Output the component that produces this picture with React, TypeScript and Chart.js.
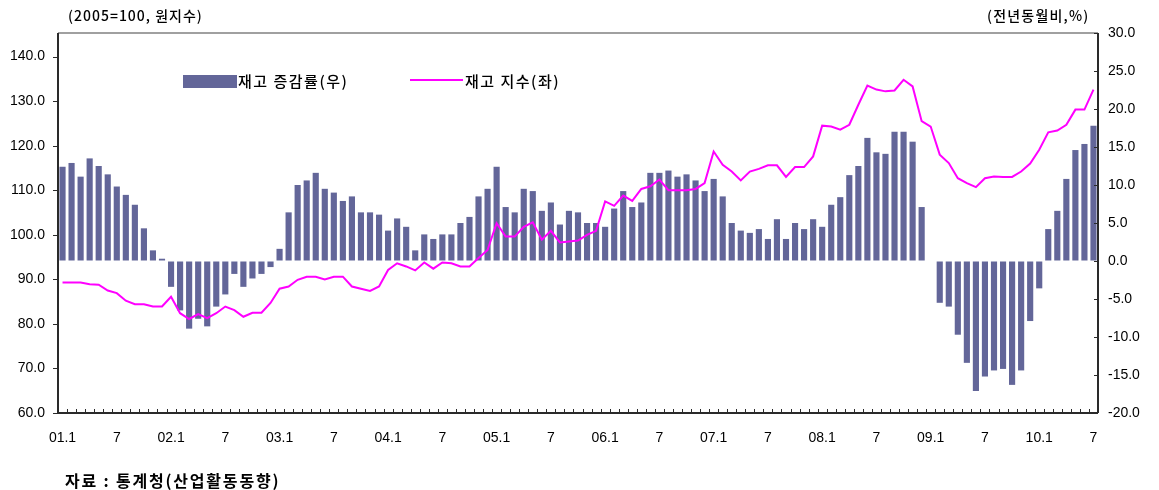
import React, { useEffect, useRef } from "react";
import { Chart, registerables } from "chart.js";

Chart.register(...registerables);

// 2001.1 ~ 2010.7 monthly categories
const years: string[] = ["01", "02", "03", "04", "05", "06", "07", "08", "09", "10"];
const categories: string[] = [];
years.forEach((y) => {
  for (let m = 1; m <= 12; m++) {
    if (y === "10" && m > 7) break;
    categories.push(`${y}.${m}`);
  }
});

const xTickLabels: string[] = [
  "01.1", "7", "02.1", "7", "03.1", "7", "04.1", "7", "05.1", "7",
  "06.1", "7", "07.1", "7", "08.1", "7", "09.1", "7", "10.1", "7",
];

const leftTicks: number[] = [60, 70, 80, 90, 100, 110, 120, 130, 140];
const rightTicks: number[] = [-20, -15, -10, -5, 0, 5, 10, 15, 20, 25, 30];

// 재고 증감률 (전년동월비, %) - right axis
const inventoryGrowth: (number | null)[] = [
  12.4, 12.9, 11.1, 13.5, 12.5, 11.4, 9.8, 8.7, 7.4, 4.3, 1.4, 0.3,
  -3.4, -6.5, -8.9, -7.6, -8.6, -6.0, -4.4, -1.7, -3.4, -2.3, -1.7, -0.8,
  1.6, 6.4, 10.0, 10.6, 11.6, 9.5, 9.0, 7.9, 8.5, 6.4, 6.4, 6.1,
  4.0, 5.6, 4.5, 1.4, 3.5, 2.9, 3.5, 3.5, 5.0, 5.8, 8.5, 9.5,
  12.4, 7.1, 6.4, 9.5, 9.2, 6.6, 7.7, 4.8, 6.6, 6.4, 5.0, 5.0,
  4.5, 6.9, 9.2, 7.1, 7.7, 11.6, 11.6, 11.9, 11.1, 11.4, 10.6, 9.2,
  10.8, 8.5, 5.0, 4.0, 3.7, 4.2, 2.9, 5.5, 2.9, 5.0, 4.2, 5.5,
  4.5, 7.4, 8.4, 11.3, 12.5, 16.2, 14.3, 14.1, 17.0, 17.0, 15.7, 7.1,
  null, -5.5, -6.0, -9.7, -13.4, -17.1, -15.2, -14.4, -14.2, -16.3, -14.4, -7.9,
  -3.6, 4.2, 6.6, 10.8, 14.6, 15.4, 17.8,
];

// 재고 지수 (2005=100, 원지수) - left axis
const inventoryIndex: number[] = [
  89.3, 89.3, 89.3, 88.9, 88.8, 87.5, 86.9, 85.2, 84.4, 84.4, 83.9, 83.9,
  86.1, 82.4, 81.1, 82.2, 81.3, 82.4, 83.9, 83.1, 81.6, 82.5, 82.5, 84.7,
  87.9, 88.4, 89.9, 90.6, 90.6, 90.0, 90.6, 90.6, 88.4, 87.9, 87.4, 88.4,
  92.1, 93.6, 92.9, 92.0, 93.8, 92.4, 93.8, 93.6, 92.9, 92.9, 94.8, 96.6,
  102.6, 99.6, 99.6, 101.8, 102.8, 98.9, 100.9, 98.3, 98.5, 98.7, 100.0, 100.9,
  107.5, 106.5, 108.8, 107.6, 110.3, 110.9, 112.4, 110.0, 110.0, 110.0, 110.3, 111.6,
  118.7, 115.7, 114.2, 112.2, 114.2, 114.8, 115.6, 115.6, 113.0, 115.2, 115.2, 117.6,
  124.5, 124.3, 123.6, 124.7, 129.2, 133.5, 132.6, 132.2, 132.4, 134.8, 133.3, 125.5,
  124.3, 118.0, 116.1, 112.7, 111.6, 110.7, 112.7, 113.1, 113.0, 113.0, 114.2, 116.0,
  119.1, 123.0, 123.4, 124.7, 128.1, 128.1, 132.6,
];

const BAR_COLOR = "#636699";
const LINE_COLOR = "#ff00ff";
const NUM_FONT = "'Liberation Sans', Arial, sans-serif";
const KR_FONT = "'Noto Sans CJK KR', 'Noto Sans', sans-serif";

const framePlugin = {
  id: "frame",
  afterDraw(chart: any) {
    const { ctx, chartArea, scales } = chart;
    const { left, right, top, bottom } = chartArea;
    ctx.save();
    const line = (x1: number, y1: number, x2: number, y2: number) => {
      ctx.beginPath();
      ctx.moveTo(x1, y1);
      ctx.lineTo(x2, y2);
      ctx.stroke();
    };
    ctx.strokeStyle = "#808080";
    ctx.lineWidth = 1.5;
    line(left, top, right, top);
    ctx.strokeStyle = "#2a2a2a";
    ctx.lineWidth = 2;
    line(left, top, left, bottom);
    line(right, top, right, bottom);
    line(left, bottom, right, bottom);
    ctx.lineWidth = 1;
    scales.y.ticks.forEach((t: any) => {
      const y = Math.round(scales.y.getPixelForValue(t.value)) + 0.5;
      line(left - 5, y, left, y);
    });
    scales.y1.ticks.forEach((t: any) => {
      const y = Math.round(scales.y1.getPixelForValue(t.value)) + 0.5;
      line(right - 4, y, right, y);
    });
    const n = chart.data.labels.length;
    for (let k = 0; k <= n; k++) {
      const x = Math.round(left + ((right - left) * k) / n) + 0.5;
      line(x, bottom - 4, x, bottom);
    }
    ctx.restore();
  },
};

export default function App() {
  const canvasRef = useRef<HTMLCanvasElement | null>(null);

  useEffect(() => {
    if (!canvasRef.current) return;
    const chart = new Chart(canvasRef.current, {
      type: "bar",
      data: {
        labels: categories,
        datasets: [
          {
            type: "line",
            label: "재고 지수(좌)",
            data: inventoryIndex,
            yAxisID: "y",
            borderColor: LINE_COLOR,
            backgroundColor: LINE_COLOR,
            borderWidth: 2,
            pointRadius: 0,
            tension: 0,
            order: 0,
          } as any,
          {
            type: "bar",
            label: "재고 증감률(우)",
            data: inventoryGrowth,
            yAxisID: "y1",
            backgroundColor: BAR_COLOR,
            borderWidth: 0,
            barPercentage: 0.68,
            categoryPercentage: 1,
            order: 1,
          } as any,
        ],
      },
      options: {
        responsive: false,
        animation: false,
        layout: { padding: { top: 33, left: 0, right: 0, bottom: 0 } },
        plugins: { legend: { display: false }, tooltip: { enabled: false } },
        scales: {
          x: {
            type: "category",
            offset: true,
            grid: { display: false, drawTicks: false },
            border: { display: false },
            ticks: {
              autoSkip: false,
              maxRotation: 0,
              minRotation: 0,
              padding: 17,
              color: "#000",
              font: { family: NUM_FONT, size: 14 },
              callback: (_v: any, i: number) => (i % 6 === 0 ? xTickLabels[i / 6] : ""),
            },
            afterFit: (s: any) => {
              s.height = 77;
            },
          },
          y: {
            position: "left",
            min: 60,
            max: 145.3,
            grid: { drawOnChartArea: false, drawTicks: false },
            border: { display: false },
            afterBuildTicks: (s: any) => {
              s.ticks = leftTicks.map((v) => ({ value: v }));
            },
            ticks: {
              padding: 13,
              color: "#000",
              font: { family: NUM_FONT, size: 14 },
              callback: (v: any) => Number(v).toFixed(1),
            },
            afterFit: (s: any) => {
              s.width = 58;
            },
          },
          y1: {
            position: "right",
            min: -20,
            max: 30,
            grid: { drawOnChartArea: false, drawTicks: false },
            border: { display: false },
            afterBuildTicks: (s: any) => {
              s.ticks = rightTicks.map((v) => ({ value: v }));
            },
            ticks: {
              padding: 10,
              color: "#000",
              font: { family: NUM_FONT, size: 14 },
              callback: (v: any) => Number(v).toFixed(1),
            },
            afterFit: (s: any) => {
              s.width = 61;
            },
          },
        },
      },
      plugins: [framePlugin],
    });
    return () => chart.destroy();
  }, []);

  const abs = (x: number, y: number): React.CSSProperties => ({
    position: "absolute",
    left: x,
    top: y,
    whiteSpace: "nowrap",
    fontFamily: KR_FONT,
    color: "#000",
    lineHeight: 1,
  });

  return (
    <div style={{ position: "absolute", left: 0, top: 0, width: 1159, height: 490, background: "#fff" }}>
      <canvas ref={canvasRef} width={1159} height={490} style={{ display: "block" }} />
      <div style={{ ...abs(68, 8), fontSize: 14, letterSpacing: 1, fontWeight: 500 }}>(2005=100, 원지수)</div>
      <div style={{ ...abs(987, 8), fontSize: 14, letterSpacing: 1.2, fontWeight: 500 }}>(전년동월비,%)</div>
      <div style={{ ...abs(183, 75), width: 54, height: 13, background: BAR_COLOR }} />
      <div style={{ ...abs(238, 73), fontSize: 15, letterSpacing: 1.5, fontWeight: 500 }}>재고 증감률(우)</div>
      <div style={{ ...abs(410, 79), width: 53, height: 2, background: LINE_COLOR }} />
      <div style={{ ...abs(465, 73), fontSize: 15, letterSpacing: 1.5, fontWeight: 500 }}>재고 지수(좌)</div>
      <div style={{ ...abs(65, 472), fontSize: 16, letterSpacing: 1.8, fontWeight: 700 }}>자료 : 통계청(산업활동동향)</div>
    </div>
  );
}
